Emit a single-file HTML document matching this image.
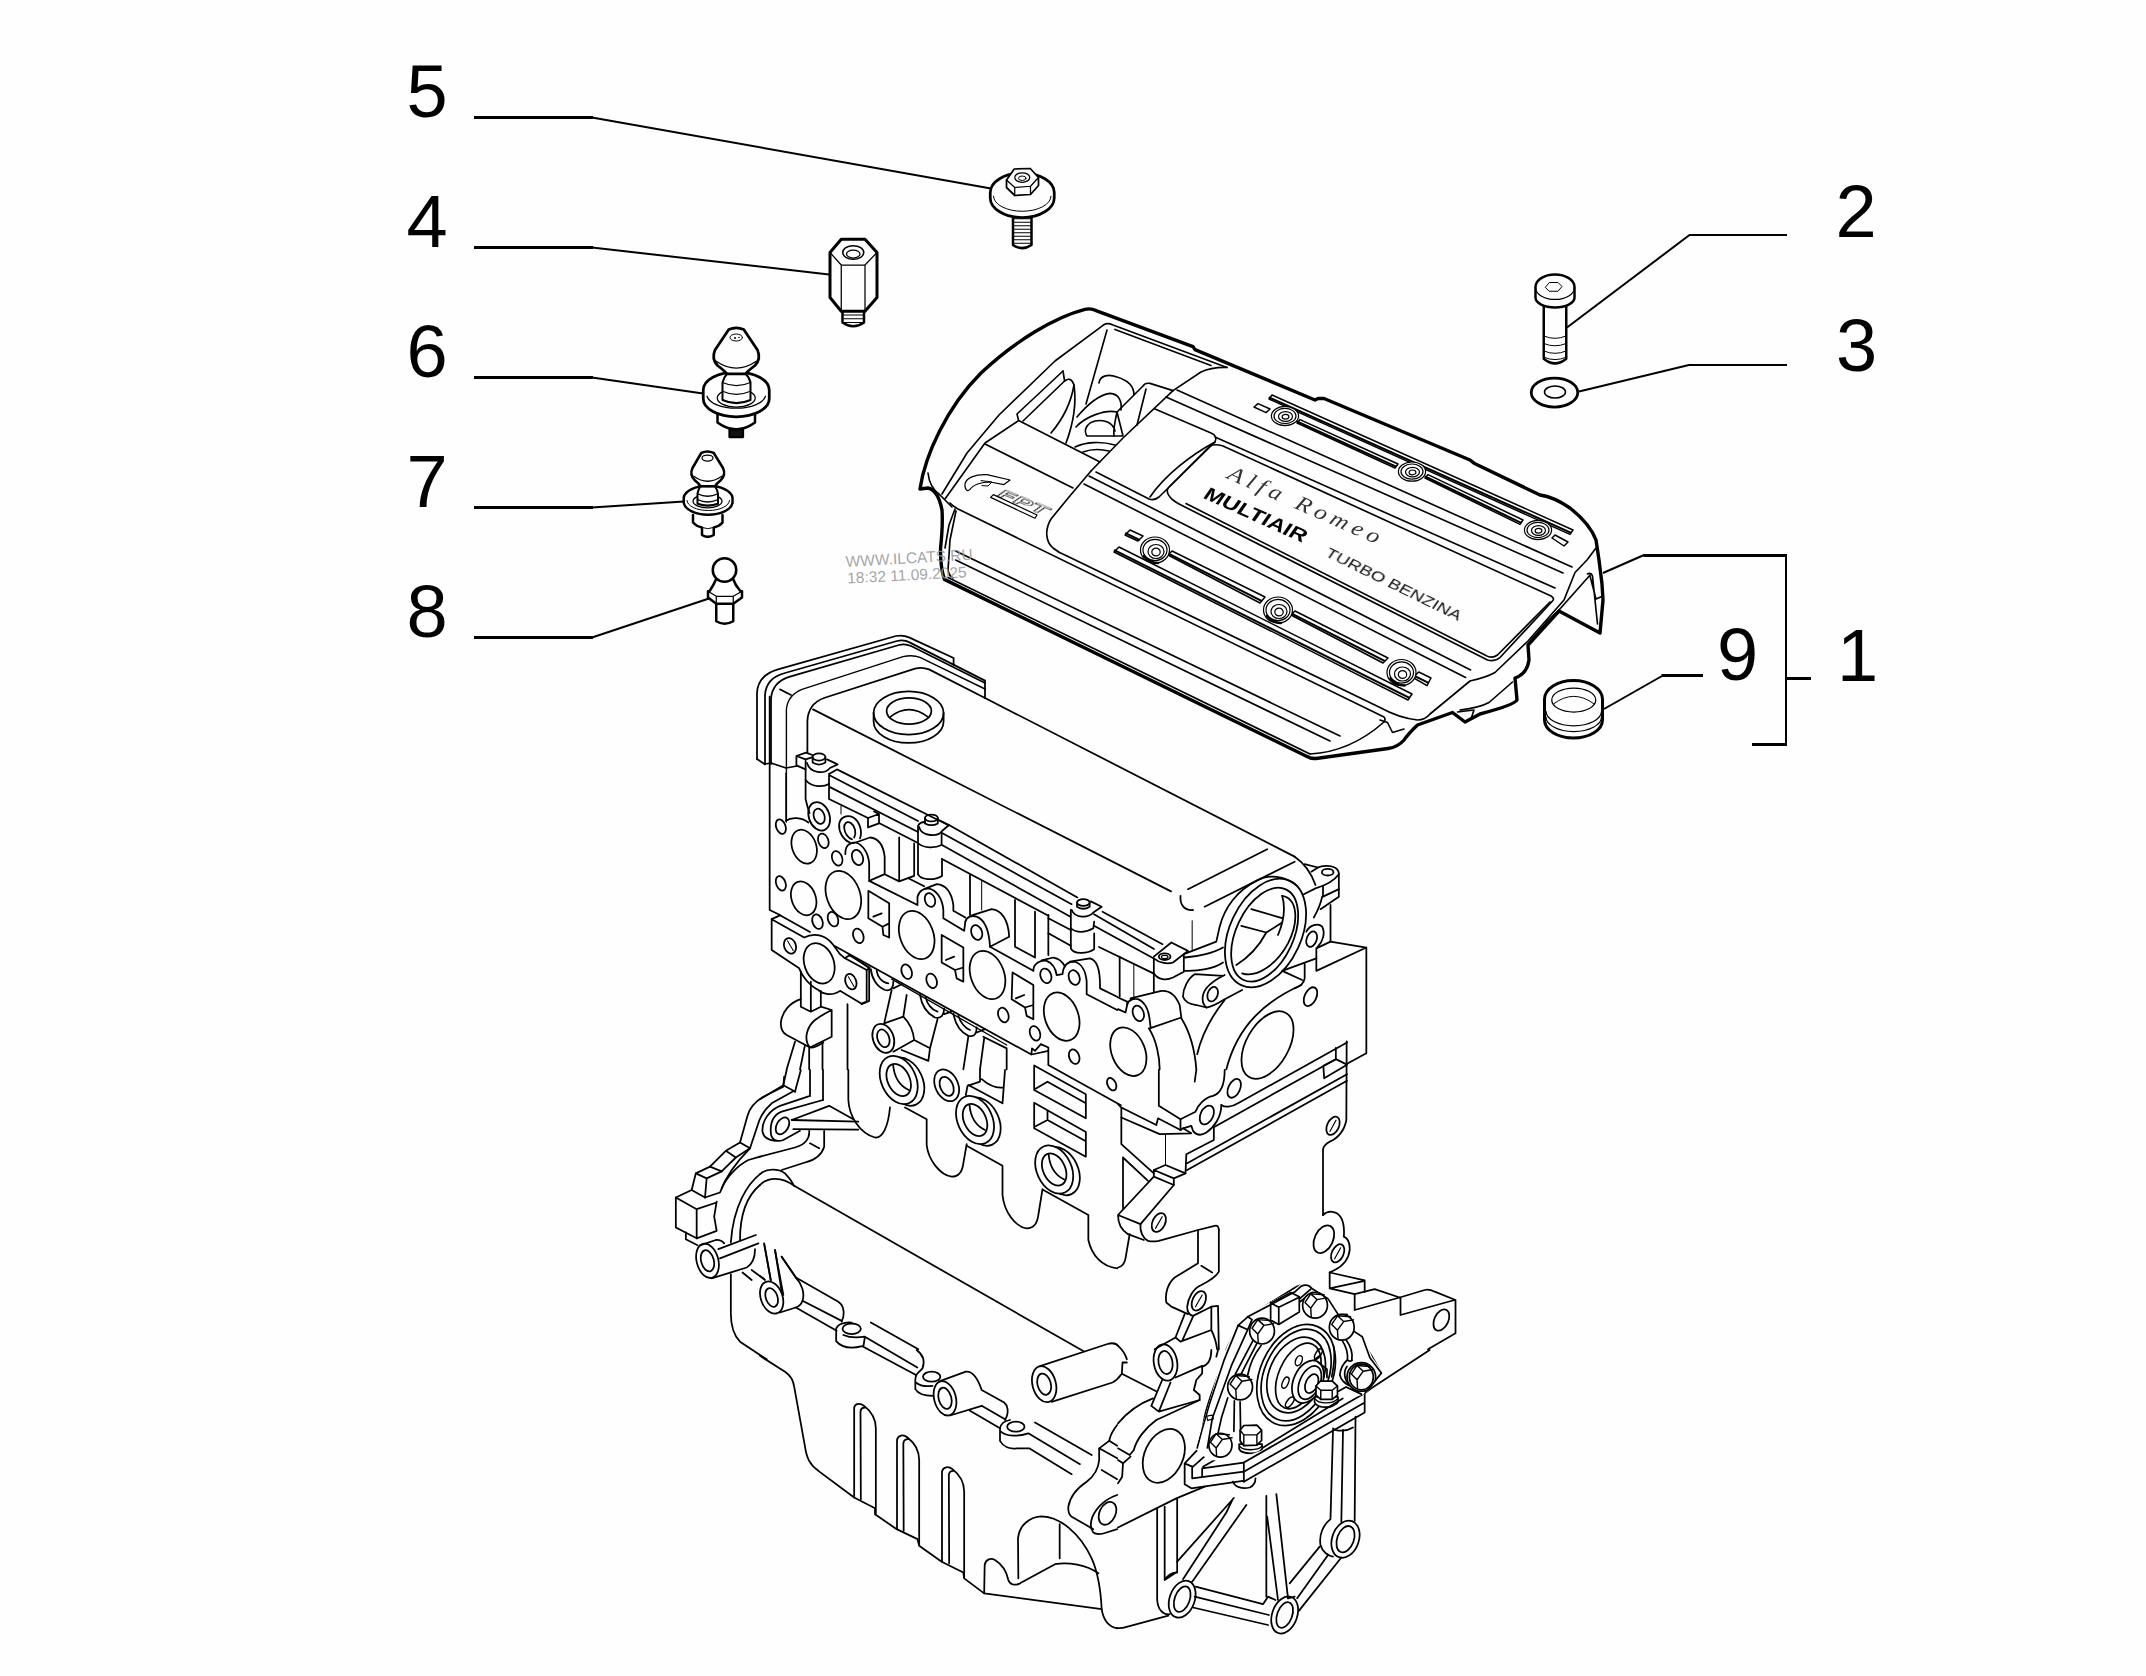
<!DOCTYPE html>
<html lang="en"><head><meta charset="utf-8"><title>Engine cover diagram</title>
<style>
html,body{margin:0;padding:0;background:#fefefe;}
svg{display:block;}
.n{font-family:"Liberation Sans",sans-serif;font-size:74px;fill:#000;}
.l{fill:none;stroke:#000;stroke-width:3;stroke-linejoin:round;stroke-linecap:butt;}
.t{fill:none;stroke:#000;stroke-linejoin:round;stroke-linecap:round;}
.w{fill:#fefefe;stroke:#000;stroke-linejoin:round;stroke-linecap:round;}
</style></head><body>
<svg width="2146" height="1676" viewBox="0 0 2146 1676">
<rect width="2146" height="1676" fill="#fefefe"/>
<!-- callout numbers -->
<g class="n" opacity="0.99">
<text x="406.5" y="117">5</text>
<text x="406.5" y="247">4</text>
<text x="406.5" y="377">6</text>
<text x="406.5" y="507">7</text>
<text x="406.5" y="637">8</text>
<text x="1835.5" y="236.5">2</text>
<text x="1836" y="370.5">3</text>
<text x="1717" y="680">9</text>
<text x="1837" y="681">1</text>
</g>
<!-- leader lines -->
<g class="l">
<path d="M474,117.5H593"/><path d="M592,117.5L991,188.5" stroke-width="2"/>
<path d="M474,247.5H593"/><path d="M592,247.5L829,274.5" stroke-width="2"/>
<path d="M474,377.5H593"/><path d="M592,377.5L703,393.5" stroke-width="2"/>
<path d="M474,507.5H593"/><path d="M592,507.5L684,501.5" stroke-width="2"/>
<path d="M474,637.5H593"/><path d="M592,637.5L709,598.5" stroke-width="2"/>
<path d="M1787,235H1689" stroke-width="2"/><path d="M1689.5,235L1567,327.5" stroke-width="2"/>
<path d="M1787,365H1688.5" stroke-width="2"/><path d="M1689,365L1579,391.5" stroke-width="2"/>
<path d="M1603,573L1644,555" stroke-width="2"/><path d="M1643.5,555.5H1787"/><path d="M1786,554V746" stroke-width="2"/><path d="M1752,744.5H1787"/>
<path d="M1787,678.5H1811"/>
<path d="M1604,709L1662,676" stroke-width="2"/><path d="M1661.5,675.5H1703"/>
</g>
<!-- part 4: hex standoff -->
<g transform="translate(380,40) scale(0.25)" class="w">
<path d="M1850,1085V1130Q1893,1160 1936,1130V1085" stroke-width="10"/>
<path d="M1855,1100H1932M1855,1115H1932M1855,1130H1932" stroke-width="4"/>
<path d="M1845,797L1940,797L1988,850L1988,1030L1940,1085L1845,1085L1800,1030L1800,850Z" stroke-width="12"/>
<path d="M1800,850L1845,900L1940,900L1988,850M1845,900V1085M1940,900V1085" stroke-width="5" fill="none"/>
<ellipse cx="1893" cy="850" rx="42" ry="27" stroke-width="6"/>
<ellipse cx="1893" cy="856" rx="27" ry="16" stroke-width="5"/>
</g>
<!-- parts 6,7,8 -->
<g transform="translate(380,300) scale(0.25)" class="w">
<!-- 6 -->
<path d="M1398,505V548H1452V505Z" stroke-width="9" fill="#111"/>
<path d="M1350,455V490Q1425,545 1500,490V455" stroke-width="10"/>
<path d="M1358,498Q1425,532 1492,498" stroke-width="4" fill="none"/>
<path d="M1293,360A132,72 0 0 1 1557,360V395A132,72 0 0 1 1293,395Z" stroke-width="11"/>
<path d="M1308,385A118,55 0 0 0 1542,385" stroke-width="5" fill="none"/>
<ellipse cx="1425" cy="392" rx="76" ry="36" stroke-width="5"/>
<path d="M1388,295Q1375,310 1370,330V400Q1425,425 1482,400V330Q1478,310 1462,295Z" stroke-width="8"/>
<path d="M1370,330Q1425,355 1482,330M1370,365Q1425,390 1482,365" stroke-width="5" fill="none"/>
<path d="M1395,118Q1425,105 1455,118L1510,200Q1525,235 1500,262Q1470,285 1462,295L1388,295Q1380,285 1350,262Q1325,235 1340,200Z" stroke-width="11"/>
<path d="M1345,245Q1425,300 1505,245" stroke-width="5" fill="none"/>
<ellipse cx="1425" cy="150" rx="25" ry="14" stroke-width="4"/>
<circle cx="1420" cy="152" r="4" fill="#000" stroke="none"/><circle cx="1436" cy="150" r="3" fill="#000" stroke="none"/>
<!-- 7 -->
<path d="M1252,860V890Q1265,905 1288,910V940Q1310,955 1335,940V910Q1358,905 1370,890V860" stroke-width="10"/>
<path d="M1288,910Q1310,920 1335,910" stroke-width="4" fill="none"/>
<path d="M1215,790A98,52 0 0 1 1410,790V812A98,52 0 0 1 1215,812Z" stroke-width="10"/>
<path d="M1228,802A85,40 0 0 0 1398,802" stroke-width="4" fill="none"/>
<ellipse cx="1310" cy="805" rx="58" ry="26" stroke-width="5"/>
<path d="M1282,745Q1272,760 1270,775V815Q1310,830 1352,815V775Q1350,760 1340,745Z" stroke-width="8"/>
<path d="M1270,775Q1310,795 1352,775M1270,798Q1310,818 1352,798" stroke-width="5" fill="none"/>
<path d="M1285,612Q1310,600 1335,612L1372,672Q1385,700 1362,722Q1345,735 1340,745L1282,745Q1277,735 1260,722Q1237,700 1250,672Z" stroke-width="10"/>
<path d="M1255,705Q1310,745 1367,705" stroke-width="5" fill="none"/>
<ellipse cx="1310" cy="632" rx="22" ry="12" stroke-width="5"/>
<!-- 8 -->
<path d="M1345,1215V1285Q1378,1305 1413,1285V1215" stroke-width="10"/>
<path d="M1345,1115Q1335,1140 1318,1165L1312,1165L1312,1190L1345,1215L1413,1215L1448,1190L1448,1165L1442,1165Q1420,1140 1412,1115Z" stroke-width="10"/>
<path d="M1312,1165L1345,1185L1413,1185L1448,1165M1345,1185V1215M1413,1185V1215" stroke-width="5" fill="none"/>
<circle cx="1378" cy="1080" r="47" stroke-width="10"/>
</g>
<!-- part 5: flange bolt -->
<g transform="translate(916,40) scale(0.25)" class="w">
<path d="M388,690V820Q425,845 462,820V690Z" stroke-width="10"/>
<path d="M392,715H458M392,729H458M392,743H458M392,757H458M392,771H458M392,785H458M392,799H458M392,813H458" stroke-width="4"/>
<path d="M297,610A128,78 0 0 1 553,610V632A128,78 0 0 1 297,632Z" stroke-width="11"/>
<path d="M310,625A115,60 0 0 0 540,625" stroke-width="4" fill="none"/>
<path d="M362,560L393,516L457,514L490,550V582L458,618L395,622L362,590Z" stroke-width="7"/>
<path d="M362,560L395,590L458,585L490,550M395,590V622M458,585V618" stroke-width="5" fill="none"/>
<ellipse cx="425" cy="550" rx="30" ry="19" stroke-width="5"/>
<ellipse cx="425" cy="553" rx="15" ry="9" stroke-width="4"/>
</g>
<!-- parts 2,3 -->
<g transform="translate(1480,150) scale(0.25)" class="w">
<path d="M255,600V835Q300,872 345,835V600Z" stroke-width="10"/>
<path d="M258,745Q300,762 342,745M258,775Q300,792 342,775M258,805Q300,822 342,805M258,830Q300,847 342,830" stroke-width="4" fill="none"/>
<path d="M222,548A78,50 0 0 1 378,548V590A78,40 0 0 1 222,590Z" stroke-width="10"/>
<path d="M222,550A78,48 0 0 0 378,550" stroke-width="5" fill="none"/>
<path d="M262,548L278,530L312,530L328,546L312,565L278,565Z" stroke-width="4"/>
<ellipse cx="298" cy="970" rx="93" ry="58" stroke-width="11"/>
<ellipse cx="300" cy="968" rx="42" ry="24" stroke-width="6"/>
</g>
<!-- part 9: plug -->
<g transform="translate(1480,500) scale(0.25)" class="w">
<path d="M258,797A116,75 0 0 1 490,797V880A116,72 0 0 1 258,880Z" stroke-width="12"/>
<ellipse cx="375" cy="800" rx="88" ry="48" stroke-width="5"/>
<path d="M295,815Q375,755 455,815" stroke-width="4" fill="none"/>
<path d="M264,845A111,58 0 0 0 486,845M264,868A111,58 0 0 0 486,868M264,892A111,58 0 0 0 486,892" stroke-width="5" fill="none"/>
</g>
<!-- engine cover: thick outline (source coords) -->
<g class="t" stroke-width="3.4">
<path d="M920,489C925,455 947,407 981,373C1015,341 1055,317 1085,309.4Q1091,308 1096,310.6L1193,346.6L1195,349.6L1315,400L1318,398.5L1324,398.5L1470,460L1474,463.2L1540,495Q1554,497 1570,508Q1590,524 1596,540L1599,560L1602,584L1603,600L1600,633L1559,611L1528,645L1529,660Q1527,674 1515,678L1517,700Q1514,705 1480,714L1465,722L1452.5,712.5L1417.5,725Q1409,733 1404,740Q1398,747 1388,748.5L1316,758.5Q1311,759 1306,756L944.4,579.4Q940,566 940.6,547.5Q943,525 942,510Q938,490 928,488L920,489"/>
</g>
<!-- cover: left/top area, tile C1 (origin 915,295, x5) -->
<g transform="translate(915,295) scale(0.2)" class="t" stroke-width="8.2">
<path d="M65,890C70,940 90,975 125,1000L185,1060"/>
<path d="M945,148Q962,138 990,150L1560,362"/>
<path d="M1000,172L1480,352"/>
<path d="M945,148L700,330L420,600L260,790L135,995"/>
<path d="M740,380L510,595L518,628L350,740L150,1020"/>
<path d="M740,380L748,430L540,630"/>
<path d="M350,745L790,965"/>
<path d="M518,628L925,835"/>
<path d="M960,175L855,545"/>
<path d="M748,430Q780,405 795,450C805,520 800,620 755,740"/>
<path d="M680,690C740,620 780,540 795,450"/>
<path d="M920,440C925,400 970,395 1010,410C1060,425 1095,450 1095,500"/>
<path d="M810,610C860,550 920,500 975,492C1020,495 1035,530 1030,575"/>
<path d="M805,660C850,610 950,570 1010,585C1000,630 990,680 995,705L860,705C840,675 860,640 900,630C950,620 990,640 1000,680"/>
<path d="M1010,585L1040,705L995,705"/>
<path d="M800,760C850,735 930,730 1000,750M840,785C880,770 930,770 970,780"/>
<path d="M1140,455Q1150,438 1175,442L1290,478M1140,455L1010,585M1155,470L1110,650M1095,500L1140,455"/>
<path d="M1290,478L1040,715L880,880"/>
<path d="M1200,570L1480,690Q1515,705 1500,735L1220,1010Q1195,1030 1170,1020L905,885"/>
<path d="M1500,735C1380,800 1250,900 1175,1010"/>
<path d="M1560,362Q1480,360 1430,385L1290,478"/>
<path d="M880,880L770,1010L680,1120C650,1170 650,1230 690,1265Q720,1290 760,1305"/>
<!-- FPT swoosh -->
<path d="M250,945C255,915 300,895 360,898L475,925L445,948L375,935C330,935 290,950 275,972C262,985 248,975 250,945Z" stroke-width="6"/>
<path d="M330,928L385,935L365,955L335,953" stroke-width="5"/>
<path d="M378,1012L392,998L610,1100L600,1116Z" stroke-width="6"/>
</g>
<!-- cover: long lines, panel, slots (source coords) -->
<g class="t" stroke-width="1.65">
<!-- hump upper lines -->
<path d="M1177,390L1572,567M1166,397L1563,573M1215,437L1555,588"/>
<!-- label panel -->
<path d="M1210,446Q1215,443.5 1223,446L1551,596Q1555,598.5 1552.5,601L1500,657.5Q1495,662 1487.5,660L1181,505Q1173,501 1170,497Q1165,491 1169,487Z"/>
<path d="M1550,602L1497.5,655Q1492,659 1486,655.6L1186,503.5"/>
<!-- lines below label panel -->
<path d="M1089,476L1470.6,670M1084,484L1465.6,677.5"/>
<!-- hump bottom edge + right bevel -->
<path d="M1067,556L1380,707.5Q1399,718 1417.5,720Q1425,720 1430,714L1470,681Q1486,677.5 1495,672.5L1528,641L1564,600L1570,585L1575,572.5L1587,560L1596,548"/>
<path d="M1591,574L1559,610L1547.5,621L1529,642.5"/>
<!-- front face -->
<path d="M950,503Q953,506 957.5,508.75L1384,717Q1386,719 1384,722Q1350,752 1310,754"/>
<path d="M955.6,551L1340,736M955.6,560L1330,741"/>
<path d="M948,577.5L1310,754"/>
<path d="M955,509L949,525L945,548M956,511L950,540L948,570Q949,576 953,578"/>
<path d="M1380,720L1387.5,722.5L1392.5,732.5L1404,729"/>
<!-- flap -->
<path d="M1587.5,574Q1591,572 1592.5,576L1597.5,624M1590,576L1596,599L1603,596"/>
<path d="M1512.5,682L1489,702.5Q1480,707.5 1460,710M1457.5,712L1474,710L1471,719"/>
</g>
<g class="t" stroke-width="1.5">
<!-- lower slots -->
<path d="M1125,535L1130,530L1143,536L1138,541Z"/>
<path d="M1168,555L1172,551L1265,597L1260,603Z"/>
<path d="M1114,552L1119,547L1412,694L1408,700Z"/>
<path d="M1291,615L1295,611L1388,658L1383,663Z"/>
<path d="M1413,677.5L1418.75,672L1431,678L1427,685.6Z"/>
<!-- upper slots -->
<path d="M1269,399L1272,395L1573,530L1570,534.4Z"/>
<path d="M1254,407L1258,403.6L1270,409L1266,412.6Z"/>
<path d="M1297,423L1300,419.6L1398,464L1395,468Z"/>
<path d="M1425,478L1428,474.6L1523,520L1520,524.4Z"/>
<path d="M1552,538L1555,535L1568,542L1564,546Z"/>
</g>
<g class="t" stroke="#333" stroke-width="2.1">
<path d="M1168.5,553.6L1261,600.6M1114.8,550.4L1409,697.6M1291.7,613.6L1384,660.6M1126,533.4L1139,539.6M1414,675.6L1428,682.6"/>
<path d="M1297.5,421.8L1395.6,466.4M1425.6,476.8L1520.6,522.6M1269.6,397.6L1570.6,532.6"/>
</g>
<!-- bolts on cover -->
<g class="w" stroke-width="1.2">
<g transform="translate(1155,550)"><ellipse rx="14.5" ry="13"/><ellipse rx="12" ry="10.6"/><ellipse cx="1" cy="1.5" rx="8" ry="7"/><ellipse cx="1" cy="2" rx="4.2" ry="3.8"/></g>
<g transform="translate(1278,610)"><ellipse rx="14.5" ry="13"/><ellipse rx="12" ry="10.6"/><ellipse cx="1" cy="1.5" rx="8" ry="7"/><ellipse cx="1" cy="2" rx="4.2" ry="3.8"/></g>
<g transform="translate(1401.5,672.5)"><ellipse rx="14.5" ry="13"/><ellipse rx="12" ry="10.6"/><ellipse cx="1" cy="1.5" rx="8" ry="7"/><ellipse cx="1" cy="2" rx="4.2" ry="3.8"/></g>
<g transform="translate(1285,416)"><ellipse rx="13.6" ry="9.6"/><ellipse rx="11" ry="7.6"/><ellipse cx="0.5" cy="0.5" rx="7" ry="4.8"/><ellipse cx="0.5" cy="0.8" rx="3.4" ry="2.4"/></g>
<g transform="translate(1412,471.6)"><ellipse rx="13.6" ry="9.6"/><ellipse rx="11" ry="7.6"/><ellipse cx="0.5" cy="0.5" rx="7" ry="4.8"/><ellipse cx="0.5" cy="0.8" rx="3.4" ry="2.4"/></g>
<g transform="translate(1538,530)"><ellipse rx="13.6" ry="9.6"/><ellipse rx="11" ry="7.6"/><ellipse cx="0.5" cy="0.5" rx="7" ry="4.8"/><ellipse cx="0.5" cy="0.8" rx="3.4" ry="2.4"/></g>
</g>
<g class="t" stroke-width="2.6"><path d="M1144,556Q1150,563 1158,563M1267,616Q1273,623 1281,623M1390.5,678.5Q1396.5,685.5 1404.5,685.5"/></g>
<!-- cover lettering -->
<g fill="#000" stroke="none" opacity="0.99">
<text transform="matrix(1.125,0.507,-0.574,0.819,1202,497.5)" font-family="'Liberation Sans',sans-serif" font-weight="bold" font-size="19">MULTIAIR</text>
<text transform="matrix(1.0,0.44,-0.45,0.82,1226,478)" font-family="'Liberation Serif',serif" font-style="italic" font-size="23" textLength="150" lengthAdjust="spacing" fill="#333">Alfa Romeo</text>
<text transform="matrix(1.14,0.557,-0.574,0.819,1324,555.5)" font-family="'Liberation Sans',sans-serif" font-size="14.5" fill="#111">TURBO BENZINA</text>
<text transform="matrix(1.95,0.8,-0.574,0.819,997,496)" font-family="'Liberation Sans',sans-serif" font-weight="bold" font-style="italic" font-size="13" fill="none" stroke="#000" stroke-width="0.55">FPT</text>
</g>
<!-- engine tile K1 (origin 660,625 x5) -->
<g transform="translate(660,625) scale(0.2)" class="t" stroke-width="8.8">
<!-- cam cover gasket outlines -->
<path d="M485,670L485,340Q490,250 590,222L1180,55Q1215,48 1245,62L1468,165L1468,200"/>
<path d="M525,695L525,350Q530,265 625,240L1185,80Q1220,72 1250,88L1625,278L1625,365"/>
<path d="M555,695L555,370Q560,285 650,258L1195,100Q1225,92 1255,105L1625,290"/>
<path d="M485,670L525,697M525,695L555,690L630,715L685,705"/>
<path d="M600,322L655,350"/>
<path d="M632,985L632,420Q640,350 710,322L1215,158Q1265,148 1300,162L1625,320" stroke-width="7"/>
<path d="M737,640L737,480Q740,395 820,365L1275,218Q1310,208 1345,222L1625,365L3173,1158"/>
<path d="M765,422L2555,1332"/>
<!-- filler cap -->
<ellipse cx="1243" cy="440" rx="175" ry="108"/>
<path d="M1068,440L1068,482A175,108 0 0 0 1418,482L1418,440"/>
<ellipse cx="1245" cy="430" rx="112" ry="66"/>
<path d="M1148,462Q1245,385 1342,462"/>
<!-- left bracket + bolt -->
<path d="M682,655L730,638L762,650M682,655L682,702L728,722L728,672L682,655M728,672L760,662"/>
<ellipse cx="795" cy="660" rx="32" ry="18"/>
<path d="M763,660L763,688Q795,708 827,688L827,660"/>
<path d="M735,690C750,740 820,750 850,715L888,697L835,672"/>
<path d="M728,722L728,870C735,900 740,920 748,940"/>
<path d="M728,775C760,815 820,810 845,795"/>
<!-- rail -->
<path d="M845,745L845,870M845,745L885,722L1440,1000M845,750L1290,980M845,808L1290,1035M845,870L1040,965"/>
<path d="M1040,965L1040,1012L1095,992L1095,945L1040,965M1095,945L1070,932"/>
<path d="M905,905L905,945" stroke-width="5"/>
<path d="M1095,990L1290,1090"/>
<!-- second boss -->
<ellipse cx="1357" cy="965" rx="32" ry="17"/>
<path d="M1325,965L1325,992Q1357,1010 1389,992L1389,965"/>
<path d="M1290,1245L1290,1005Q1298,985 1325,985"/>
<path d="M1295,1010C1310,1060 1390,1060 1410,1030L1445,1000L1395,975"/>
<path d="M1290,1090C1320,1120 1380,1115 1408,1100L1408,1040"/>
<path d="M1290,1245C1300,1275 1370,1280 1410,1255L1410,1170"/>
<path d="M1445,1000L2087,1362M1410,1040L2058,1396M1410,1100L2050,1458M1410,1170L1942,1454"/>
</g>
<!-- engine tile L1 (origin 760,790 x6): head face -->
<g transform="translate(760,790) scale(0.16667)" class="t" stroke-width="10.6">
<path d="M58,-560L58,720L120,750"/>
<path d="M155,-100L155,185" stroke-width="6"/>
<path d="M155,185C190,160 250,165 290,195"/>
<!-- holes -->
<g fill="none">
<ellipse transform="translate(125,220) rotate(-20)" rx="28" ry="45"/>
<ellipse transform="translate(265,340) rotate(-20)" rx="72" ry="105"/>
<ellipse transform="translate(380,305) rotate(-20)" rx="30" ry="45"/>
<ellipse transform="translate(463,410) rotate(-20)" rx="30" ry="45"/>
<ellipse transform="translate(355,158) rotate(-20)" rx="62" ry="88"/>
<ellipse transform="translate(355,158) rotate(-20)" rx="32" ry="47"/>
<ellipse transform="translate(585,405) rotate(-20)" rx="32" ry="47"/>
<ellipse transform="translate(125,560) rotate(-20)" rx="28" ry="45"/>
<ellipse transform="translate(262,650) rotate(-20)" rx="72" ry="105"/>
<ellipse transform="translate(500,630) rotate(-20)" rx="100" ry="150"/>
<ellipse transform="translate(345,790) rotate(-20)" rx="30" ry="45"/>
<ellipse transform="translate(438,775) rotate(-20)" rx="30" ry="45"/>
<ellipse transform="translate(590,875) rotate(-20)" rx="30" ry="45"/>
<ellipse transform="translate(1020,660) rotate(-20)" rx="30" ry="42"/>
<ellipse transform="translate(940,870) rotate(-20)" rx="100" ry="150"/>
<ellipse transform="translate(880,1090) rotate(-20)" rx="30" ry="45"/>
<ellipse transform="translate(1030,1145) rotate(-20)" rx="30" ry="45"/>
<ellipse transform="translate(1300,855) rotate(-20)" rx="32" ry="45"/>
<ellipse transform="translate(1365,1110) rotate(-20)" rx="100" ry="150"/>
<ellipse transform="translate(1460,1350) rotate(-20)" rx="30" ry="45"/>
<ellipse transform="translate(1650,1460) rotate(-20)" rx="30" ry="45"/>
<ellipse transform="translate(1715,1115) rotate(-20)" rx="32" ry="45"/>
<ellipse transform="translate(1885,1125) rotate(-20)" rx="32" ry="45"/>
<ellipse transform="translate(1810,1360) rotate(-20)" rx="100" ry="150"/>
<ellipse transform="translate(1885,1600) rotate(-20)" rx="30" ry="45"/>
</g>
<!-- ring E6 partially hidden -->
<path d="M600,290C615,250 600,190 560,165C520,145 480,165 475,205C470,250 500,300 540,315"/>
<path d="M565,285C580,255 570,215 545,198C520,185 503,200 505,228C508,260 530,290 552,296"/>
<!-- boss 1 -->
<path d="M512,385C510,330 540,315 575,315C620,330 650,380 655,440L655,545L748,505L748,400C740,330 710,290 660,285L565,318"/>
<path d="M748,505L835,548L925,515M835,285L835,548M925,320L925,515" />
<path d="M890,530L985,578"/>
<!-- ledge + boss 2 -->
<path d="M655,545L945,690L945,640C955,600 990,590 1010,590C1060,600 1095,650 1100,720L1100,770L1225,845L1232,790"/>
<path d="M985,595L1060,565C1120,570 1150,620 1160,690L1160,725L1232,765"/>
<!-- boss 3 -->
<path d="M1232,790C1240,760 1270,750 1300,760C1350,780 1375,850 1380,940L1495,880C1490,780 1450,720 1390,715L1270,752"/>
<path d="M1380,940L1640,1085"/>
<!-- boss 4/5 -->
<path d="M1640,1085C1640,1040 1680,1020 1720,1025C1760,1040 1775,1080 1780,1110L1815,1105C1820,1050 1850,1030 1885,1030C1930,1040 1955,1090 1960,1150L1960,1225L2143,1320"/>
<path d="M1690,1022L1760,1005C1800,1010 1820,1040 1830,1060M1860,1030L1980,1010C2020,1020 2040,1080 2040,1170L2040,1190L2143,1240"/>
<!-- square ports -->
<path d="M650,605L775,680L775,885L740,870L735,820L650,770ZM735,820L775,800M680,760L730,740"/>
<path d="M1090,870L1220,945L1220,1150L1180,1130L1170,1080L1090,1035ZM1170,1080L1220,1065M1115,1020L1165,1000"/>
<path d="M1515,1095L1640,1170L1640,1375L1600,1355L1590,1305L1510,1255ZM1590,1305L1640,1290M1535,1250L1585,1230"/>
<!-- bottom edge of head face -->
<path d="M445,935L1628,1587L1632,1550L1650,1565L1685,1525L1730,1545L1730,1650L2165,1892M1630,1587L1730,1565"/>
<ellipse transform="translate(2210,1570) rotate(-22)" rx="100" ry="152"/>
<path d="M530,990L660,1065M790,1135L1480,1530" stroke-width="8"/>
<!-- verticals behind -->
<path d="M1260,510L1260,750M1530,660L1530,940L1650,1005L1650,730M1730,750L1730,990"/>
<path d="M1330,545L1330,720" stroke-width="6"/>
<!-- third rail boss -->
<ellipse cx="1940" cy="675" rx="38" ry="20"/>
<path d="M1902,675L1902,700Q1940,725 1978,700L1978,675"/>
<path d="M1865,720L1865,950C1880,985 1960,985 2005,955L2005,860"/>
<path d="M1870,720C1890,770 1970,770 2000,735L2050,700L1985,668"/>
<path d="M1865,830C1900,860 1960,855 2000,830L2005,790"/>
<path d="M1730,770L1865,840M1730,860L1865,935"/>
<!-- exhaust flange lower-left -->
<path d="M70,775L265,885C330,850 400,875 440,930L480,985L510,1010L640,1080L640,1270L610,1282L480,1205C440,1235 380,1228 350,1200C290,1170 250,1110 235,1070L70,960Z"/>
<path d="M70,775L120,752L300,852M640,1080L655,1070L655,1265L610,1285M510,1008L540,990L655,1068"/>
<ellipse transform="translate(180,935) rotate(-20)" rx="35" ry="48"/>
<ellipse transform="translate(355,1040) rotate(-20)" rx="88" ry="125"/>
<ellipse transform="translate(545,1150) rotate(-20)" rx="32" ry="48"/>
<path d="M165,905L200,965M530,1120L565,1180" stroke-width="6"/>
<!-- lower-left bracket/pipe -->
<path d="M245,1090L245,1300L305,1330L365,1300L365,1205M305,1150L305,1330" />
<path d="M365,1300L430,1320L430,1480L300,1545C260,1500 280,1420 330,1380C370,1350 410,1330 430,1320"/>
<path d="M245,1255C180,1275 130,1330 125,1400C125,1440 140,1460 160,1470L300,1545C320,1550 340,1540 380,1515"/>
<path d="M210,1510L160,1676M270,1530L240,1676M295,1540L295,1676M375,1520L375,1676M525,1285L525,1676"/>
<!-- injector-like parts -->
<ellipse transform="translate(740,1490) rotate(-20)" rx="62" ry="90"/>
<ellipse transform="translate(740,1490) rotate(-20)" rx="35" ry="55"/>
<path d="M745,1400L860,1360C900,1400 920,1450 925,1500L800,1570M860,1360L880,1230M745,1400L790,1200M925,1500L1020,1550L1065,1375M850,1560L1010,1625L1020,1550"/>
<path d="M665,1075C670,1130 700,1180 750,1200C790,1210 800,1180 800,1150M700,1085C705,1120 730,1155 770,1160"/>
<path d="M960,1230C970,1290 1000,1340 1050,1365C1090,1375 1105,1345 1105,1310M995,1245C1000,1280 1030,1320 1065,1330"/>
<path d="M1160,1340C1170,1400 1200,1450 1250,1475C1290,1485 1300,1455 1300,1425M1190,1355C1200,1390 1230,1430 1260,1440"/>
<path d="M800,1190L850,1165M1105,1345L1150,1330M1300,1455L1350,1435"/>
<path d="M1250,1480L1220,1676M1345,1490L1320,1676M1340,1480L1480,1550L1480,1676"/>
</g>
<!-- engine tile L2 (origin 1118,790 x6) -->
<g transform="translate(1118,790) scale(0.16667)" class="t" stroke-width="10.6">
<path d="M1060,400C1120,440 1160,500 1185,570"/>
<path d="M895,355L420,595M1060,430L520,700"/>
<path d="M375,635C370,690 400,725 450,720"/>
<path d="M445,785L445,960" stroke-width="6"/>
<!-- rails from left -->
<path d="M-93,730L267,925M-144,745L216,954M-144,815L212,1010M-114,942L212,1100"/>
<!-- lifting eye left -->
<path d="M215,1000L320,915L420,965L330,1035C300,1045 250,1040 215,1010L215,1100C240,1140 290,1145 330,1125L395,1090"/>
<ellipse cx="280" cy="1000" rx="35" ry="20"/><ellipse cx="280" cy="1002" rx="20" ry="10" stroke-width="7"/>
<path d="M10,1000L10,1240M215,1100L215,1210"/>
<path d="M95,1050L95,1240" stroke-width="6"/>
<!-- bracket to ring -->
<path d="M395,985L395,1085C480,1090 580,1070 630,1035M395,985L590,910L610,820C640,700 720,600 830,545M400,1005C480,1000 580,975 630,945"/>
<!-- big ring -->
<ellipse transform="translate(885,858) rotate(25)" rx="215" ry="345"/>
<ellipse transform="translate(880,868) rotate(25)" rx="172" ry="300"/>
<path d="M985,635C1075,650 1090,780 1020,920C950,1050 830,1130 745,1100"/>
<path d="M800,715L990,770M740,815L890,855L985,795M985,635C1010,720 990,800 960,870M890,855C850,930 790,1000 710,1050"/>
<path d="M830,545C900,505 1000,510 1075,575"/>
<!-- right ear -->
<path d="M1130,850C1150,810 1200,795 1225,820C1245,860 1230,910 1195,945"/>
<ellipse transform="translate(1162,895) rotate(20)" rx="30" ry="48"/>
<!-- top right lug -->
<path d="M1120,445L1200,465C1220,455 1270,450 1300,465C1320,475 1325,490 1325,505L1325,640L1215,715"/>
<ellipse cx="1258" cy="493" rx="35" ry="20"/>
<path d="M1325,505C1300,540 1250,570 1185,590L1115,625M1230,580L1230,640L1325,595M1160,490L1200,465M1225,640C1215,690 1195,730 1175,765"/>
<path d="M1275,690L1275,910"/>
<!-- block right -->
<path d="M1275,910L1490,945L1490,1580L1380,1640M1490,945L1190,1085L1190,950L1275,910"/>
<path d="M1190,1010L985,1085L1105,1140M1120,1040L1120,1130C1115,1160 1090,1180 1060,1190"/>
<path d="M1100,1170C900,1260 720,1400 650,1676"/>
<!-- lower ear -->
<path d="M630,1115L460,1105C420,1130 390,1190 390,1240C400,1270 430,1285 470,1290L530,1305C500,1280 500,1230 530,1190C560,1150 610,1125 640,1110"/>
<ellipse transform="translate(568,1225) rotate(20)" rx="30" ry="45"/>
<path d="M530,1305C560,1300 600,1280 640,1255L745,1200"/>
<ellipse transform="translate(1155,1240) rotate(25)" rx="35" ry="60"/>
<ellipse transform="translate(897,1530) rotate(30)" rx="127" ry="222"/>
<path d="M640,1260C560,1360 500,1480 475,1585M380,1370C430,1450 460,1550 470,1676"/>
<!-- left lower boss -->
<path d="M55,1290C60,1260 90,1250 120,1255C160,1270 185,1320 190,1380L195,1420M75,1250L260,1205C320,1200 350,1240 370,1290L380,1365L190,1430"/>
<ellipse transform="translate(122,1340) rotate(-20)" rx="32" ry="48"/>
<path d="M0,1245L55,1270L55,1290L45,1335L0,1315"/>
<path d="M185,1430C230,1500 250,1600 250,1676"/>
</g>
<!-- engine tile L3 (origin 760,1070 x6) -->
<g transform="translate(760,1070) scale(0.16667)" class="t" stroke-width="10.6">
<path d="M160,0L140,90M245,0L210,130M300,0L300,155M378,0L378,180"/>
<path d="M530,0L530,180C535,280 600,380 690,405C740,410 770,330 780,225"/>
<path d="M0,175L140,92L212,130"/>
<path d="M300,155L120,215C60,240 10,300 15,370C20,400 50,420 90,425"/>
<path d="M378,180L130,250C80,270 60,320 65,380C70,420 100,435 140,420L240,365"/>
<path d="M190,300L415,215L560,295M190,300L590,310M200,355L590,358"/>
<ellipse transform="translate(135,335) rotate(30)" rx="35" ry="55"/>
<path d="M295,365C300,410 270,450 210,465L0,520M385,365L385,460C370,510 330,540 270,555L130,600M300,440L355,470"/>
<path d="M0,625C40,590 110,590 150,620C180,650 195,675 205,695M0,690C50,640 130,640 205,695"/>
<path d="M205,695L1942,1688"/>
<!-- wavy block edge -->
<path d="M870,225L1000,295L1000,450C1010,540 1080,630 1150,640C1200,640 1215,600 1220,560L1240,445"/>
<path d="M1240,455L1455,575L1455,750C1465,850 1530,940 1600,950C1650,950 1665,910 1670,870L1695,715"/>
<path d="M1700,720L1970,870L1970,1020C1990,1110 2050,1180 2143,1190"/>
<!-- core plug rings -->
<g fill="#fefefe">
<ellipse transform="translate(872,70) rotate(-25)" rx="104" ry="152"/>
<ellipse transform="translate(832,60) rotate(-25)" rx="104" ry="152"/>
<ellipse transform="translate(832,60) rotate(-25)" rx="66" ry="102"/>
<path d="M799,-30C805,40 840,95 892,120" fill="none"/>
<ellipse transform="translate(1330,310) rotate(-25)" rx="104" ry="152"/>
<ellipse transform="translate(1290,300) rotate(-25)" rx="104" ry="152"/>
<ellipse transform="translate(1290,300) rotate(-25)" rx="66" ry="102"/>
<path d="M1257,210C1263,280 1298,335 1350,360" fill="none"/>
<ellipse transform="translate(1805,607) rotate(-25)" rx="104" ry="152"/>
<ellipse transform="translate(1765,597) rotate(-25)" rx="104" ry="152"/>
<ellipse transform="translate(1765,597) rotate(-25)" rx="66" ry="102"/>
<path d="M1732,507C1738,577 1773,632 1825,657" fill="none"/>
<ellipse transform="translate(1120,92) rotate(-25)" rx="68" ry="100"/>
<ellipse transform="translate(1120,98) rotate(-25)" rx="38" ry="60"/>
</g>
<path d="M1245,95L1320,70L1320,0M1245,95L1235,150M1250,90L1455,200L1470,0M1330,55C1370,90 1420,110 1460,105"/>
<!-- ribs right -->
<path d="M1645,-27L1645,120L1955,290L1955,145ZM1648,115L1725,70L1955,200"/>
<path d="M1645,197L1645,350L1955,520L1955,372ZM1648,340L1725,300L1955,427M1725,245L1725,300"/>
<ellipse transform="translate(2110,85) rotate(-25)" rx="25" ry="40"/>
<!-- bottom-left -->
<path d="M25,1040L65,1260M90,1080L130,1330M130,1120L215,1245M0,1235L30,1260"/>
<ellipse transform="translate(70,1365) rotate(-20)" rx="65" ry="100"/>
<ellipse transform="translate(70,1365) rotate(-20)" rx="35" ry="58"/>
<path d="M215,1245C250,1280 270,1340 255,1385C245,1410 230,1420 215,1425L120,1455"/>
<path d="M215,1245L470,1390C500,1410 505,1450 500,1480L490,1510M255,1385L490,1505M215,1425L460,1565"/>
<path d="M455,1560C460,1530 500,1510 550,1515"/>
<ellipse cx="550" cy="1553" rx="55" ry="32"/>
<path d="M457,1570L457,1627C494,1672 554,1672 614,1657L936,1830M500,1590C550,1612 600,1605 629,1600L944,1785M629,1603L621,1655M665,1515L950,1676"/>
</g>
<!-- engine tile L4 (origin 1118,1070 x6) -->
<g transform="translate(1118,1070) scale(0.16667)" class="t" stroke-width="10.6">
<path d="M245,0L245,215L375,295L375,360M460,70L470,0"/>
<path d="M640,0C640,80 620,140 570,155C520,165 480,210 465,250L375,295"/>
<ellipse transform="translate(697,110) rotate(25)" rx="35" ry="60"/>
<ellipse transform="translate(533,270) rotate(25)" rx="38" ry="60"/>
<path d="M620,210C640,225 680,225 720,200L1374,-165"/>
<path d="M620,210C620,280 580,340 530,375C500,395 470,390 450,365L440,335L390,350L375,360"/>
<path d="M390,350L440,380L250,385L20,285L20,225L0,205M20,225L230,330L240,290L375,360"/>
<path d="M580,340L1307,-65M575,345L575,420L410,505L405,620M415,560L1374,25M415,600L1374,65"/>
<path d="M285,390L285,570" stroke-width="6"/>
<path d="M20,285L20,445L215,620M30,525L30,830M30,525L180,665"/>
<path d="M215,600L285,570L405,620L335,650L335,690L215,640ZM215,600L335,650"/>
<path d="M215,640L0,870M335,690L135,925M0,870L135,925M0,870C0,920 20,960 60,985L155,1020"/>
<path d="M135,925C130,970 150,1010 180,1025C200,1030 220,1030 245,1025L480,960L580,935C600,930 605,945 605,960"/>
<ellipse transform="translate(245,915) rotate(25)" rx="38" ry="60"/>
<path d="M225,950L265,880" stroke-width="7"/>
<path d="M70,985L45,1130C40,1160 20,1180 0,1185"/>
<path d="M480,960L480,1160L340,1245C300,1280 280,1340 290,1395L320,1420L420,1465"/>
<path d="M605,960L605,1210C590,1240 540,1270 500,1290C450,1310 420,1370 415,1420C415,1450 430,1470 450,1475L560,1420L600,1415L605,1676"/>
<path d="M500,1175L565,1215"/>
<ellipse transform="translate(485,1385) rotate(25)" rx="38" ry="62"/>
<path d="M465,1420L505,1350" stroke-width="7"/>
<path d="M560,1420L560,1560L375,1630L345,1605L400,1465M450,1480L385,1625M345,1605L220,1676M560,1560C580,1600 590,1640 595,1676"/>
<!-- right flange outline -->
<path d="M1372,-172L1370,300C1360,360 1320,410 1270,430C1250,440 1235,455 1230,475L1230,870"/>
<path d="M1230,870C1260,840 1310,845 1335,880C1355,910 1358,960 1355,1000C1380,1010 1392,1040 1390,1080C1385,1130 1350,1175 1300,1200L1270,1215"/>
<ellipse transform="translate(1290,335) rotate(25)" rx="35" ry="58"/>
<path d="M1272,368L1308,302" stroke-width="7"/>
<ellipse transform="translate(1235,1015) rotate(25)" rx="55" ry="88"/>
<ellipse transform="translate(1318,1100) rotate(25)" rx="35" ry="58"/>
<path d="M1300,1133L1336,1067" stroke-width="7"/>
<path d="M1307,-132L1307,-65L1374,-32M1232,-25L1237,50L1374,-32M1307,-65L1232,-25"/>
<!-- bracket right -->
<path d="M1270,1215L1480,1262L1480,1332M1270,1215L1270,1310L1480,1265M1270,1310L1420,1345"/>
<path d="M1420,1345L1420,1440L1690,1365M1420,1345L1540,1315L1690,1365"/>
<path d="M1690,1365L1840,1320C1860,1315 1880,1320 1900,1330L2025,1380L2025,1580L1860,1676M1695,1365L1695,1470L2020,1380"/>
<ellipse transform="translate(1940,1500) rotate(25)" rx="42" ry="68"/>
<!-- oil pump area -->
<path d="M650,1676L720,1530L790,1475L1070,1300C1100,1285 1130,1290 1150,1300L1250,1365L1330,1470M720,1530L790,1560M790,1475L850,1500"/>
<path d="M915,1395L1060,1330L1085,1345L1085,1450L960,1515L915,1490ZM915,1395L960,1415L960,1515M960,1415L1085,1350"/>
<circle cx="1180" cy="1400" r="70"/><path d="M1120,1395L1150,1345L1215,1340L1240,1385M1150,1345L1165,1400L1120,1420M1165,1400L1230,1395M1165,1400L1175,1465" stroke-width="8"/>
<circle cx="860" cy="1560" r="72"/><path d="M800,1555L830,1505L895,1500L920,1545M830,1505L845,1560L800,1580M845,1560L910,1555M845,1560L855,1625" stroke-width="8"/>
<circle cx="1340" cy="1535" r="70"/><path d="M1280,1530L1310,1480L1375,1475L1400,1520M1310,1480L1325,1535L1280,1555M1325,1535L1390,1530M1325,1535L1335,1600" stroke-width="8"/>
<path d="M1150,1300L1180,1330M1250,1365L1310,1460"/>
<path d="M940,1676C990,1590 1080,1530 1180,1520C1220,1520 1250,1535 1270,1560M960,1676C1010,1610 1090,1560 1170,1545C1220,1545 1250,1570 1265,1600L1275,1676M1000,1676C1050,1620 1120,1590 1180,1585"/>
<path d="M1420,1590L1470,1620L1490,1676M1360,1640L1380,1676M680,1676L760,1520M740,1676L790,1560M790,1676L810,1620"/>
</g>
<!-- engine tile L5 (origin 760,1350 x6) -->
<g transform="translate(760,1350) scale(0.16667)" class="t" stroke-width="10.6">
<path d="M0,35L150,130C180,150 200,180 205,220L270,580C280,650 300,690 350,725L565,885L690,950L690,985L820,1075L945,1135L955,1175L1090,1270L1220,1335L1225,1370L1345,1460L2050,1555C2060,1620 2090,1660 2143,1670"/>
<path d="M565,885L565,345C570,320 600,315 625,335C670,370 695,420 695,470L695,980M605,895L603,370C605,350 620,345 630,345"/>
<path d="M822,1075L822,540C827,510 860,505 885,525C930,560 955,610 955,660L955,1170M862,1085L860,560C862,540 880,535 890,535"/>
<path d="M1092,1270L1092,730C1097,700 1130,695 1155,715C1200,750 1225,800 1225,850L1225,1365M1135,1280L1133,750C1135,730 1150,725 1160,725"/>
<path d="M940,0C980,30 990,70 975,110L945,140C930,160 930,180 932,200L932,235C950,265 990,275 1035,275"/>
<ellipse cx="1030" cy="160" rx="52" ry="30"/>
<path d="M935,195C960,215 1000,220 1035,215"/>
<ellipse transform="translate(1110,290) rotate(-15)" rx="65" ry="105" fill="#fefefe"/>
<ellipse transform="translate(1110,290) rotate(-15)" rx="38" ry="65"/>
<path d="M1075,188L1235,130C1280,125 1310,180 1330,240M1140,393L1330,335M1330,240L1465,315C1490,335 1490,375 1480,400L1470,420M1330,335L1470,415M1260,365L1440,470"/>
<ellipse cx="1535" cy="460" rx="52" ry="30"/>
<path d="M1440,470C1445,440 1470,425 1500,420M1440,470L1440,545C1460,580 1500,595 1540,590L1615,590L1870,745M1445,490C1480,520 1550,520 1610,500L1920,685M1650,435L1990,630"/>
<ellipse transform="translate(1705,205) rotate(-15)" rx="70" ry="110"/>
<ellipse transform="translate(1705,205) rotate(-15)" rx="40" ry="65"/>
<path d="M1680,97L2085,-36C2115,-45 2137,-41 2152,-22C2175,0 2194,30 2201,56M2201,75L2175,75L2171,142M1750,311L2115,195C2145,180 2160,157 2171,142L2377,247"/>
<path d="M2143,450C2110,490 2100,520 2095,545L2035,590L2035,660C2030,720 2000,760 1960,790C1900,830 1860,880 1850,940C1848,970 1855,990 1870,1000L2000,1075"/>
<path d="M2035,590L2143,650M2095,545L2143,575M2050,720L2143,775"/>
<path d="M2143,870C2080,890 2020,940 1995,1000C1980,1040 1985,1075 2000,1095C2020,1110 2050,1105 2080,1095L2143,1075"/>
<ellipse transform="translate(2085,980) rotate(25)" rx="48" ry="72"/>
<path d="M1550,1370L1548,1130C1555,1050 1620,1000 1690,998C1800,1000 1920,1100 1990,1250C2030,1340 2045,1450 2050,1555M1798,1045L1798,1250"/>
<path d="M1345,1460L1348,1290C1355,1255 1385,1245 1410,1260C1450,1285 1480,1330 1490,1380C1500,1410 1530,1415 1560,1400L1770,1285C1850,1270 1960,1290 2030,1340"/>
</g>
<!-- engine tile L6 (origin 1118,1350 x6) -->
<g transform="translate(1118,1350) scale(0.16667)" class="t" stroke-width="10.6">
<ellipse transform="translate(285,75) rotate(-10)" rx="70" ry="110"/>
<ellipse transform="translate(285,75) rotate(-10)" rx="42" ry="70"/>
<path d="M200,335L265,180M245,370L315,195M200,335L245,370L490,300L490,270L455,240L470,180L505,140L505,95L345,165"/>
<path d="M560,0C560,60 540,90 505,100M600,0L590,40"/>
<path d="M0,440C50,380 130,320 210,290M0,590L70,630L95,600C110,540 160,470 230,420L490,300M0,660L30,680L25,760L0,800M30,680L75,640"/>
<ellipse transform="translate(275,635) rotate(25)" rx="115" ry="170"/>
<path d="M660,0C600,150 540,300 520,400L485,590M715,0C660,130 610,300 590,490M770,0L730,130M800,0L760,130M835,0C810,60 790,110 780,150"/>
<path d="M530,395L570,395L570,410L530,410ZM545,410L540,600" stroke-width="7"/>
<path d="M485,590L400,680L400,805L440,830L750,785M400,680L445,700L445,770M485,590L540,620L450,700M445,770L755,730M505,710L755,675L755,790M505,710L505,755M510,700L580,660"/>
<path d="M755,675L1480,260L1480,375L755,790M755,730L1480,315M1480,260L1520,230L1870,0M860,590L1370,225L1440,262"/>
<!-- hex bolts -->
<circle cx="730" cy="220" r="72"/><path d="M670,215L700,165L765,160L790,205M700,165L715,220L670,240M715,220L780,215M715,220L725,285" stroke-width="8"/>
<circle cx="610" cy="570" r="72"/><path d="M550,565L580,515L645,510L670,555M580,515L595,570L550,590M595,570L660,565M595,570L605,635" stroke-width="8"/>
<circle cx="1455" cy="160" r="72"/><path d="M1395,155L1425,105L1490,100L1515,145M1425,105L1440,160L1395,180M1440,160L1505,155M1440,160L1450,225" stroke-width="8"/>
<path d="M735,470L760,440L830,438L858,468L858,520L830,550L760,552L735,522ZM735,470L760,495L830,493L858,468M760,495L760,552M830,493L830,550" stroke-width="8"/>
<path d="M730,540L730,570C740,600 850,600 862,570L862,540M730,565C745,590 845,590 862,562" stroke-width="8"/>
<path d="M1185,205L1210,178L1280,176L1308,205L1308,260L1280,290L1210,292L1185,262ZM1185,205L1210,232L1280,230L1308,205M1210,232L1210,292M1280,230L1280,290" stroke-width="8"/>
<path d="M1180,280L1180,310C1190,340 1300,340 1312,310L1312,280M1180,300C1195,328 1295,328 1312,300" stroke-width="8"/>
<path d="M700,290L690,520M735,300L735,450"/>
<!-- crank hub -->
<path d="M870,80C830,200 850,350 950,420C1000,450 1080,420 1150,350M900,60C860,190 880,320 960,385C1010,410 1070,390 1130,340M940,30C900,150 920,280 990,340M830,150C825,280 860,400 950,440C980,450 1010,445 1040,430"/>
<ellipse transform="translate(1120,215) rotate(20)" rx="75" ry="110"/>
<ellipse transform="translate(1150,210) rotate(20)" rx="42" ry="68"/>
<path d="M1010,40C1060,-20 1180,-10 1240,80"/>
<ellipse transform="translate(1085,45) rotate(20)" rx="14" ry="22" stroke-width="8"/>
<ellipse transform="translate(1000,195) rotate(20)" rx="15" ry="25" stroke-width="8"/>
<ellipse transform="translate(1025,305) rotate(20)" rx="17" ry="28" stroke-width="8"/>
<ellipse transform="translate(1200,20) rotate(20)" rx="14" ry="22" stroke-width="8"/>
<path d="M1330,150C1335,100 1350,70 1380,50L1370,0M1500,0L1580,135L1480,260M1290,0L1300,50"/>
<!-- below plate -->
<path d="M690,790C700,820 740,835 790,825C815,815 825,795 825,770M1290,470C1310,490 1370,490 1410,465"/>
<path d="M1290,480L1275,1010M1350,480L1340,1030M1425,400L1420,1025"/>
<path d="M520,820L350,890L0,1065"/>
<path d="M235,955L235,1500C240,1560 270,1590 310,1585M280,940L280,1380L355,1330L355,895M280,1380C300,1350 330,1335 355,1335"/>
<path d="M355,1270L695,888M390,1375L650,975L690,892M445,1390L770,930"/>
<path d="M890,875L890,1480M895,1000L960,1500M950,865L1020,1490"/>
<ellipse transform="translate(385,1495) rotate(20)" rx="75" ry="115"/>
<ellipse transform="translate(385,1495) rotate(20)" rx="45" ry="80"/>
<ellipse transform="translate(1000,1590) rotate(20)" rx="75" ry="115"/>
<ellipse transform="translate(1000,1590) rotate(20)" rx="45" ry="80"/>
<ellipse transform="translate(1365,1135) rotate(20)" rx="80" ry="115"/>
<ellipse transform="translate(1365,1135) rotate(20)" rx="50" ry="82"/>
<path d="M1275,1015C1230,1050 1205,1110 1215,1170C1225,1210 1260,1235 1290,1240"/>
<path d="M465,1420L870,1525M460,1480L905,1590M450,1545L900,1650M870,1525L900,1480L945,1500"/>
<path d="M1030,1400L1210,1180M1075,1490L1260,1230M1085,1565L1340,1245"/>
<path d="M-8,1668Q20,1672 52,1661L302,1594M1020,1490L1060,1480"/>
</g>
<!-- engine tile M1 (origin 640,1080 x6): left flange -->
<g transform="translate(640,1080) scale(0.16667)" class="t" stroke-width="10.6">
<path d="M865,-20L860,40L740,100C690,130 655,175 645,215L600,375L515,425L420,520L335,560L310,660L215,705L215,885L340,950"/>
<path d="M925,65L790,140C745,180 725,215 715,245L660,410M600,375L660,410L575,465L490,548L400,590L390,705"/>
<path d="M515,425L575,465M420,520L490,548M335,560L400,590M310,660L390,705"/>
<path d="M660,410C600,470 520,560 480,675L390,705"/>
<path d="M215,705L340,775L340,950M340,775L460,735M460,730L445,820L460,905L340,950M275,915L275,955L345,992"/>
<path d="M720,460L650,480C590,510 520,580 490,650"/>
<path d="M720,565C650,620 560,750 545,975M720,630C660,680 600,780 600,960"/>
<path d="M470,1015L695,930M480,1070L710,980"/>
<ellipse transform="translate(405,1085) rotate(-15)" rx="65" ry="105"/>
<ellipse transform="translate(405,1085) rotate(-15)" rx="38" ry="65"/>
<path d="M360,992L455,960C480,958 495,968 505,980M430,1190L640,1125C680,1100 690,1050 690,1015"/>
<path d="M545,1165L545,1400C545,1470 560,1530 600,1570L760,1676"/>
<path d="M615,1155L670,1200M670,1140L745,1195M745,985L785,1205M810,1020L860,1290M850,1060L935,1185"/>
</g>
<!-- patch Z6: oil pump / crank seal (origin 1200,1270 x10.475) -->
<defs><clipPath id="cpz6"><path d="M380,565L490,468L990,203L1050,148L1135,133L1195,180L1355,280L1465,448L1545,450L1640,535L1640,632L1718,688L1803,915L1922,1080L1730,1300L1500,1368L660,1885L350,1995L90,1995L-45,1875L225,940Z"/></clipPath></defs>
<g transform="translate(1200,1270) scale(0.095466)" class="t" stroke-width="18" clip-path="url(#cpz6)">
<path d="M-100,0H2100V2100H-100Z" fill="#fefefe" stroke="none"/>
<!-- seal rings -->
<ellipse transform="translate(1007,1100) rotate(24)" rx="377" ry="555"/>
<ellipse transform="translate(1007,1100) rotate(24)" rx="333" ry="504"/>
<ellipse transform="translate(1007,1100) rotate(24)" rx="281" ry="414"/>
<ellipse transform="translate(1030,1110) rotate(24)" rx="205" ry="364"/>
<ellipse transform="translate(1130,1170) rotate(24)" rx="150" ry="235" fill="#fefefe"/>
<ellipse transform="translate(1150,1180) rotate(24)" rx="105" ry="185"/>
<ellipse transform="translate(1170,1190) rotate(24)" rx="62" ry="105"/>
<ellipse transform="translate(1035,950) rotate(24)" rx="33" ry="55" stroke-width="15"/>
<ellipse transform="translate(1240,880) rotate(32)" rx="28" ry="60" stroke-width="15"/>
<ellipse transform="translate(895,1180) rotate(24)" rx="30" ry="62" stroke-width="15"/>
<ellipse transform="translate(940,1385) rotate(38)" rx="30" ry="62" stroke-width="15"/>
<path d="M1230,960L1330,1040L1330,1125M1200,940L1250,900"/>
<!-- housing outline -->
<path d="M400,580L500,490L1000,225L1060,170Q1100,150 1140,165L1180,200L1340,300L1450,470L1540,465"/>
<path d="M400,580L250,950L100,1400L20,1676L-30,1864M400,580L500,625L545,520L500,490M500,625L330,1000L130,1550L77,1864M290,1340L224,1551L185,1727"/>
<path d="M560,730L370,1090M600,760L430,1090M640,790C570,880 520,990 500,1100"/>
<path d="M360,1370L355,1690M420,1380L425,1670"/>
<!-- top box -->
<path d="M740,345L950,235L1040,280L1040,440L825,570L740,525ZM740,345L825,390L825,570M825,390L1040,285M1045,335L1175,235M1045,300L1160,200"/>
<!-- right side -->
<path d="M1610,640L1700,700L1780,920L1900,1080L1727,1294"/>
<path d="M1530,730C1580,800 1600,880 1590,940M1490,740C1530,800 1550,870 1545,940C1500,980 1470,1030 1465,1100C1480,1160 1520,1190 1560,1210M1545,940C1560,960 1580,960 1595,945"/>
<path d="M1540,1010C1500,1060 1510,1150 1560,1200M1450,1270L1530,1225L1690,1300"/>
<path d="M1400,800C1420,900 1400,1020 1380,1120"/>
<ellipse cx="1205" cy="370" rx="130" ry="135" fill="#fefefe"/><path d="M1100,340L1160,250L1300,260M1160,250L1225,310L1160,400L1100,340M1160,400L1165,488M1225,310L1327,292" stroke-width="15"/>
<ellipse cx="650" cy="640" rx="130" ry="135" fill="#fefefe"/><path d="M545,610L605,520L745,530M605,520L670,580L605,670L545,610M605,670L610,758M670,580L772,562" stroke-width="15"/>
<ellipse cx="420" cy="1225" rx="130" ry="135" fill="#fefefe"/><path d="M315,1195L375,1105L515,1115M375,1105L440,1165L375,1255L315,1195M375,1255L380,1343M440,1165L542,1147" stroke-width="15"/>
<ellipse cx="1485" cy="600" rx="130" ry="135" fill="#fefefe"/><path d="M1380,570L1440,480L1580,490M1440,480L1505,540L1440,630L1380,570M1440,630L1445,718M1505,540L1607,522" stroke-width="15"/>
<ellipse cx="1690" cy="1120" rx="150" ry="150"/><ellipse cx="1690" cy="1120" rx="125" ry="135" fill="#fefefe"/><path d="M1585,1090L1645,1000L1785,1010M1645,1000L1710,1060L1645,1150L1585,1090M1645,1150L1650,1238M1710,1060L1812,1042" stroke-width="15"/>
<path d="M1200,1330L1200,1385C1230,1455 1410,1455 1445,1385L1445,1330Z" fill="#fefefe"/>
<path d="M1205,1350C1240,1405 1400,1405 1440,1350" stroke-width="14"/>
<path d="M1215,1215L1260,1165L1385,1165L1440,1215L1440,1310L1385,1355L1265,1355L1215,1310Z" fill="#fefefe"/>
<path d="M1215,1215L1265,1260L1385,1260L1440,1215M1265,1260L1265,1355M1385,1260L1385,1355" stroke-width="15"/>
<path d="M70,1530L130,1520L140,1560L80,1575Z" stroke-width="12"/>
<path d="M654,1864L1495,1346"/>
<ellipse cx="214" cy="1835" rx="121" ry="125" fill="#fefefe"/><path d="M109,1805L169,1715L309,1725M169,1715L234,1775L169,1865L109,1805M169,1865L174,1953M234,1775L336,1757" stroke-width="15"/>
<path d="M410,1825L410,1875C440,1935 615,1935 650,1875L650,1825Z" fill="#fefefe"/>
<path d="M415,1845C450,1895 610,1895 647,1845" stroke-width="14"/>
<path d="M420,1678L459,1629L596,1625L645,1678L645,1786L596,1835L459,1840L420,1790Z" fill="#fefefe"/>
<path d="M420,1678L459,1727L596,1727L645,1678M459,1727L459,1840M596,1727L596,1835" stroke-width="15"/>
</g>
<!-- watermark -->
<g font-family="'Liberation Sans',sans-serif" font-size="15.5" fill="#9a9a9a" fill-opacity="0.9" opacity="0.99">
<text transform="translate(846,567) rotate(-3.3)">WWW.ILCATS.RU</text>
<text transform="translate(847.5,583.5) rotate(-3)">18:32 11.09.2025</text>
</g>
</svg>
</body></html>
